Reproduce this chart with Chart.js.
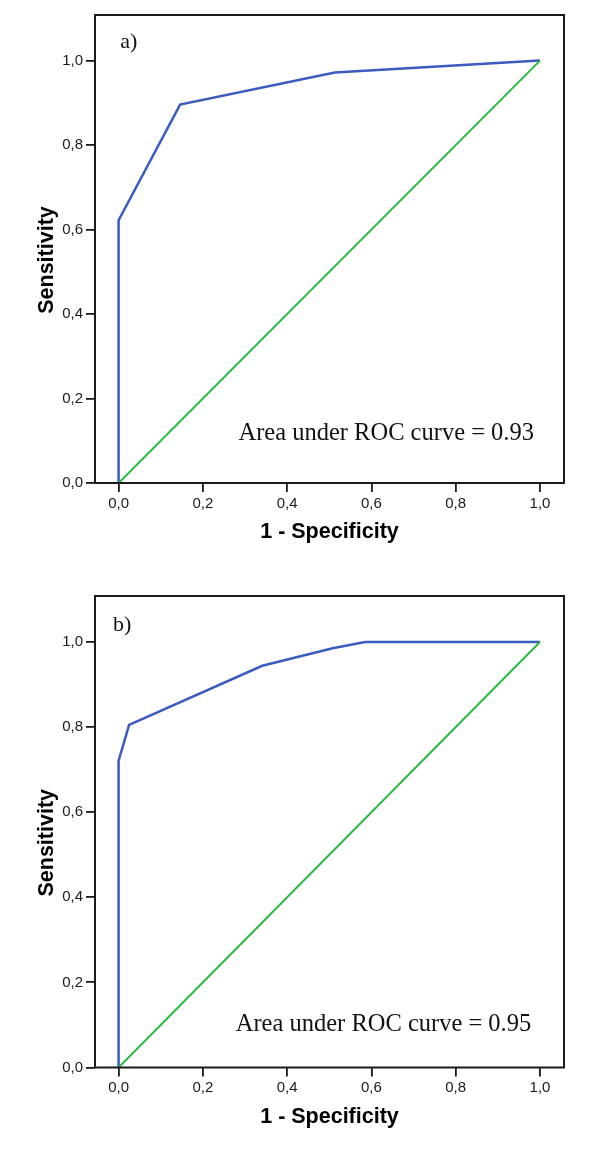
<!DOCTYPE html>
<html><head><meta charset="utf-8">
<script src="https://cdn.jsdelivr.net/npm/chart.js@4"></script>
<style>
html,body{margin:0;padding:0;background:#fff;width:600px;height:1159px;overflow:hidden;}
canvas{display:block;position:absolute;left:0;}
</style>
</head><body>
<canvas id="cA" width="600" height="570" style="top:0px"></canvas>
<canvas id="cB" width="600" height="589" style="top:570px"></canvas>
<script>
// ---- data ----
const tickValues = [0, 0.2, 0.4, 0.6, 0.8, 1.0];
const tickLabels = ['0,0', '0,2', '0,4', '0,6', '0,8', '1,0'];
const rocA_fpr = [0, 0, 0.146, 0.513, 1];
const rocA_tpr = [0, 0.622, 0.896, 0.972, 1];
const rocB_fpr = [0, 0, 0.025, 0.341, 0.508, 0.585, 1];
const rocB_tpr = [0, 0.721, 0.805, 0.944, 0.985, 1, 1];
const refLine_x = [0, 1];
const refLine_y = [0, 1];
const panelLabels = ['a)', 'b)'];
const aucTexts = ['Area under ROC curve = 0.93', 'Area under ROC curve = 0.95'];
const axisTitleX = '1 - Specificity';
const axisTitleY = 'Sensitivity';

const SANS = '"Liberation Sans", Arial, sans-serif';
const SERIF = '"Liberation Serif", "Times New Roman", serif';

const decor = {
  id: 'decor',
  afterDraw(chart, args, o) {
    const {ctx, chartArea: a, scales: {x, y}} = chart;
    ctx.save();
    ctx.strokeStyle = '#1a1a1a';
    ctx.lineWidth = 2;
    ctx.strokeRect(a.left, a.top, a.right - a.left, a.bottom - a.top);
    ctx.fillStyle = '#111';
    ctx.textBaseline = 'middle';
    ctx.textAlign = 'left';
    ctx.font = '22px ' + SERIF;
    ctx.fillText(o.panel, x.getPixelForValue(o.panelX), y.getPixelForValue(o.panelY));
    ctx.font = '24.5px ' + SERIF;
    ctx.fillText(o.auc, x.getPixelForValue(o.aucX), y.getPixelForValue(o.aucY));
    ctx.fillStyle = '#000';
    ctx.translate(o.yTitleX, (a.top + a.bottom) / 2 + o.yTitleShift);
    ctx.rotate(-Math.PI / 2);
    ctx.textAlign = 'center';
    ctx.font = 'bold 21.5px ' + SANS;
    ctx.fillText(axisTitleY, 0, 0);
    ctx.restore();
  }
};

function makeChart(id, fpr, tpr, idx, L) {
  const H = document.getElementById(id).height;
  const axisCommon = {
    type: 'linear',
    afterBuildTicks: s => { s.ticks = tickValues.map(v => ({value: v})); },
    ticks: {
      callback: (v, i) => tickLabels[i],
      font: {family: SANS, size: 15},
      color: '#1a1a1a',
      maxRotation: 0,
      autoSkip: false
    },
    grid: {drawOnChartArea: false, drawTicks: true, tickLength: 9, color: '#1a1a1a', lineWidth: 1.8},
    border: {display: false}
  };
  return new Chart(document.getElementById(id), {
    type: 'scatter',
    data: {
      datasets: [
        {
          data: refLine_x.map((v, i) => ({x: v, y: refLine_y[i]})),
          showLine: true, borderColor: '#2bb845', borderWidth: 2,
          pointRadius: 0, fill: false, tension: 0
        },
        {
          data: fpr.map((v, i) => ({x: v, y: tpr[i]})),
          showLine: true, borderColor: '#3b5bbf', borderWidth: 2.5,
          pointRadius: 0, fill: false, tension: 0
        }
      ]
    },
    options: {
      responsive: false,
      animation: false,
      devicePixelRatio: 1,
      layout: {padding: {top: L.padTop, right: L.padRight, left: 0, bottom: 0}},
      plugins: {
        legend: {display: false},
        tooltip: {enabled: false},
        decor: {
          panel: panelLabels[idx], panelX: L.panelX, panelY: L.panelY,
          auc: aucTexts[idx], aucX: L.aucX, aucY: L.aucY,
          yTitleX: 47, yTitleShift: 11
        }
      },
      scales: {
        x: Object.assign({}, axisCommon, {
          min: -0.056, max: 1.057,
          ticks: Object.assign({}, axisCommon.ticks, {padding: 2.5}),
          title: {display: true, text: axisTitleX, color: '#000',
                  font: {family: SANS, size: 21.5, weight: 'bold'},
                  padding: {top: 0, bottom: L.titlePadBottom}},
          afterFit: s => { s.height = H - L.areaBottom; }
        }),
        y: Object.assign({}, axisCommon, {
          min: 0, max: 1.108,
          ticks: Object.assign({}, axisCommon.ticks, {padding: 3}),
          afterFit: s => { s.width = 95; }
        })
      }
    },
    plugins: [decor]
  });
}

makeChart('cA', rocA_fpr, rocA_tpr, 0, {
  padTop: 15, padRight: 36, areaBottom: 483, titlePadBottom: 25,
  panelX: 0.004, panelY: 1.043, aucX: 0.2845, aucY: 0.117
});
makeChart('cB', rocB_fpr, rocB_tpr, 1, {
  padTop: 26, padRight: 36, areaBottom: 497.5, titlePadBottom: 29,
  panelX: -0.013, panelY: 1.04, aucX: 0.278, aucY: 0.101
});
</script>
</body></html>
